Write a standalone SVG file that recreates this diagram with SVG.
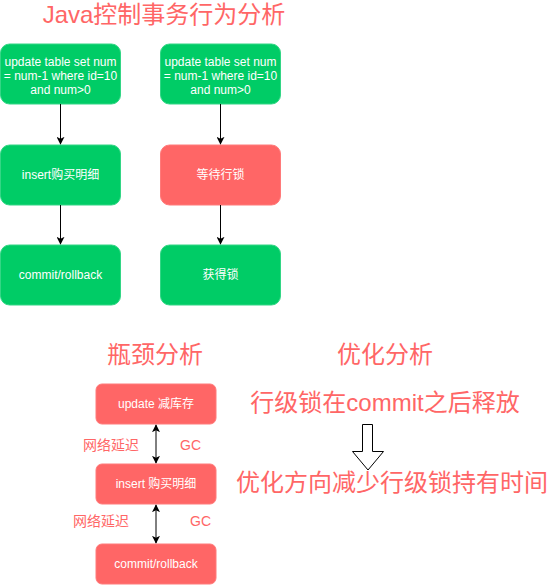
<svg xmlns="http://www.w3.org/2000/svg" width="556" height="585" viewBox="0 0 556 585">
  <style>
    text { font-family: "Liberation Sans", "Noto Sans CJK SC", sans-serif; }
    .green { fill: #00CC66; stroke: #33D685; stroke-width: 1; }
    .red { fill: #FF6666; stroke: #FF7A7A; stroke-width: 1; }
    .lbl { fill: #FFFFFF; font-size: 12px; text-anchor: middle; }
    .head { fill: #FF6666; font-size: 24px; text-anchor: middle; }
    .note { fill: #FF6666; font-size: 14px; }
    .edge { stroke: #000000; stroke-width: 1; fill: none; }
  </style>
  <defs>
    <marker id="arrow" viewBox="0 0 10 10" refX="9" refY="5" markerWidth="8" markerHeight="8" markerUnits="userSpaceOnUse" orient="auto-start-reverse">
      <path d="M0,0 L10,5 L0,10 L2.5,5 Z" fill="#000000"/>
    </marker>
  </defs>
  <rect width="556" height="585" fill="#FFFFFF"/>

  <text class="head" x="164" y="23">Java控制事务行为分析</text>

  <!-- left flow -->
  <g id="l-update">
    <rect class="green" x="0.5" y="44" width="120" height="60" rx="9"/>
    <text class="lbl" x="60.5" y="66">update table set num</text>
    <text class="lbl" x="60.5" y="80">= num-1 where id=10</text>
    <text class="lbl" x="60.5" y="94">and num&gt;0</text>
  </g>
  <g id="l-insert">
    <rect class="green" x="0.5" y="145" width="120" height="60" rx="9"/>
    <text class="lbl" x="60.5" y="179">insert购买明细</text>
  </g>
  <g id="l-commit">
    <rect class="green" x="0.5" y="245" width="120" height="60" rx="9"/>
    <text class="lbl" x="60.5" y="279">commit/rollback</text>
  </g>

  <!-- right flow -->
  <g id="r-update">
    <rect class="green" x="160.5" y="44" width="120" height="60" rx="9"/>
    <text class="lbl" x="220.5" y="66">update table set num</text>
    <text class="lbl" x="220.5" y="80">= num-1 where id=10</text>
    <text class="lbl" x="220.5" y="94">and num&gt;0</text>
  </g>
  <g id="r-wait">
    <rect class="red" x="160.5" y="145" width="120" height="60" rx="9"/>
    <text class="lbl" x="220.5" y="179">等待行锁</text>
  </g>
  <g id="r-acquire">
    <rect class="green" x="160.5" y="245" width="120" height="60" rx="9"/>
    <text class="lbl" x="220.5" y="279">获得锁</text>
  </g>

  <!-- bottleneck flow -->
  <text class="head" x="155" y="363">瓶颈分析</text>
  <g id="b-update">
    <rect class="red" x="96" y="384" width="120" height="40" rx="6"/>
    <text class="lbl" x="156" y="408">update 减库存</text>
  </g>
  <g id="b-insert">
    <rect class="red" x="96" y="464" width="120" height="40" rx="6"/>
    <text class="lbl" x="156" y="488">insert 购买明细</text>
  </g>
  <g id="b-commit">
    <rect class="red" x="96" y="544" width="120" height="40" rx="6"/>
    <text class="lbl" x="156" y="568">commit/rollback</text>
  </g>
  <text class="note" x="83" y="450">网络延迟</text>
  <text class="note" x="180" y="450">GC</text>
  <text class="note" x="73" y="526">网络延迟</text>
  <text class="note" x="190" y="526">GC</text>

  <!-- optimisation notes -->
  <text class="head" x="385" y="363">优化分析</text>
  <text class="head" x="385" y="411">行级锁在commit之后释放</text>
  <path d="M362.5,424.5 H372.5 V451.5 H383.5 L368,470 L352.5,451.5 H362.5 Z" fill="#FFFFFF" stroke="#000000" stroke-width="1"/>
  <text class="head" x="392" y="491">优化方向减少行级锁持有时间</text>

  <g id="connectors">
    <line class="edge" x1="60.5" y1="104" x2="60.5" y2="144" marker-end="url(#arrow)"/>
    <line class="edge" x1="60.5" y1="205" x2="60.5" y2="244" marker-end="url(#arrow)"/>
    <line class="edge" x1="220.5" y1="104" x2="220.5" y2="144" marker-end="url(#arrow)"/>
    <line class="edge" x1="220.5" y1="205" x2="220.5" y2="244" marker-end="url(#arrow)"/>
    <line class="edge" x1="156" y1="425" x2="156" y2="463" marker-start="url(#arrow)" marker-end="url(#arrow)"/>
    <line class="edge" x1="156" y1="505" x2="156" y2="543" marker-start="url(#arrow)" marker-end="url(#arrow)"/>
  </g>
</svg>
